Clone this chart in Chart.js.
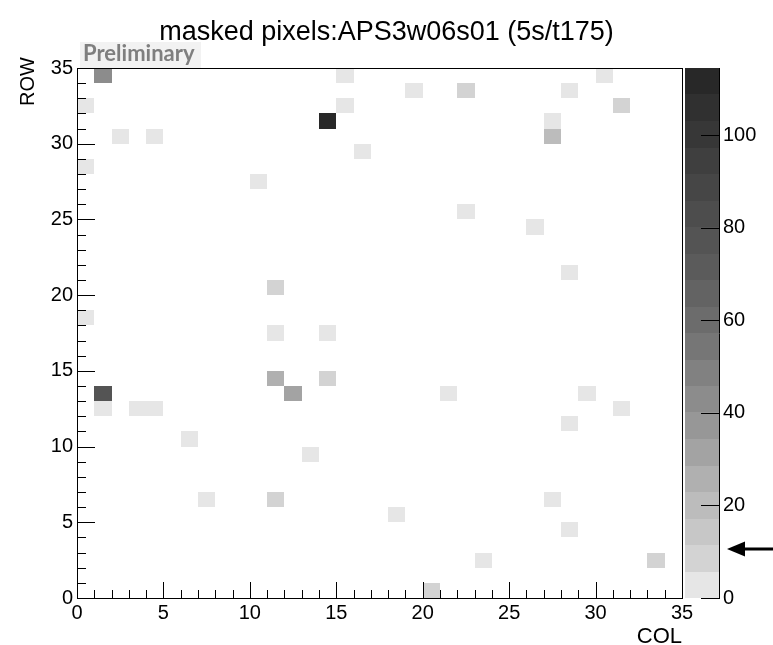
<!DOCTYPE html>
<html>
<head>
<meta charset="utf-8">
<title>masked pixels</title>
<script src="https://cdn.jsdelivr.net/npm/chart.js@4.4.1/dist/chart.umd.min.js"></script>
<style>
  body { margin: 0; background: #fff; }
  #wrap { width: 773px; height: 645px; }
</style>
</head>
<body>
<div id="wrap"><canvas id="heatmap" width="773" height="645"></canvas></div>
<script>
// masked pixel map, one entry per non-empty cell (column, row, count)
const cols   = [1, 15, 30, 19, 22, 28, 0, 15, 31, 14, 27, 2, 4, 27, 16, 0, 10, 22, 26, 28, 11, 0, 11, 14, 11, 14, 1, 12, 21, 29, 1, 3, 4, 31, 28, 6, 13, 7, 11, 27, 18, 28, 23, 33, 20];
const rows   = [34, 34, 34, 33, 33, 33, 32, 32, 32, 31, 31, 30, 30, 30, 29, 28, 27, 25, 24, 21, 20, 18, 17, 17, 14, 14, 13, 13, 13, 13, 12, 12, 12, 12, 11, 10, 9, 6, 6, 6, 5, 4, 2, 2, 0];
const counts = [43, 3, 3, 3, 9, 3, 3, 3, 9, 109, 3, 3, 3, 19, 3, 3, 3, 3, 3, 3, 9, 3, 3, 3, 25, 9, 77, 31, 3, 3, 3, 3, 3, 3, 3, 3, 3, 3, 9, 3, 3, 3, 3, 9, 9];

const colTicks = [0, 5, 10, 15, 20, 25, 30, 35];
const rowTicks = [0, 5, 10, 15, 20, 25, 30, 35];
const zTicks   = [0, 20, 40, 60, 80, 100];

const nCols = 35;
const nRows = 35;
const zMax = 114.5;
const arrowValue = 10.6;

// grey palette, lightest to darkest
const grayLevels = [230, 211, 199, 188, 176, 163, 151, 140, 129, 118, 108, 99, 91, 84, 77, 70, 63, 55, 48, 40];
const nLevels = grayLevels.length;

Chart.defaults.font.family = "'Liberation Sans', Arial, Helvetica, sans-serif";
Chart.defaults.color = '#000';

function grayFor(v) {
  const band = Math.min(nLevels - 1, Math.floor(v / zMax * nLevels));
  const g = grayLevels[band];
  return 'rgb(' + g + ',' + g + ',' + g + ')';
}

function setTicks(list) {
  return function (scale) {
    scale.ticks = list.map(v => ({ value: v }));
  };
}

function fixSize(prop, size) {
  return function (s) {
    s[prop] = size;
    s.paddingTop = 0;
    s.paddingBottom = 0;
  };
}

const cellPlugin = {
  id: 'cells',
  beforeDatasetsDraw(chart) {
    const { ctx, scales: { x, y } } = chart;
    const pts = chart.data.datasets[0].data;
    ctx.save();
    pts.forEach(p => {
      const x0 = Math.round(x.getPixelForValue(p.x - 0.5));
      const x1 = Math.round(x.getPixelForValue(p.x + 0.5));
      const y0 = Math.round(y.getPixelForValue(p.y + 0.5));
      const y1 = Math.round(y.getPixelForValue(p.y - 0.5));
      ctx.fillStyle = grayFor(p.v);
      ctx.fillRect(x0, y0, x1 - x0, y1 - y0);
    });
    ctx.restore();
  },
  afterDraw(chart) {
    const { ctx, chartArea: a, scales: { x, y, z } } = chart;
    ctx.save();
    ctx.strokeStyle = '#000';
    ctx.lineWidth = 1;

    // frame
    ctx.strokeRect(a.left + 0.5, a.top + 0.5, a.right - a.left, a.bottom - a.top);

    // inward ticks on x
    ctx.beginPath();
    for (let c = 0; c <= nCols; c++) {
      const px = Math.round(x.getPixelForValue(c)) + 0.5;
      const len = c % 5 === 0 ? 16 : 8;
      ctx.moveTo(px, a.bottom);
      ctx.lineTo(px, a.bottom - len);
    }
    // inward ticks on y
    for (let r = 0; r <= nRows; r++) {
      const py = Math.round(y.getPixelForValue(r)) + 0.5;
      const len = r % 5 === 0 ? 18 : 9;
      ctx.moveTo(a.left, py);
      ctx.lineTo(a.left + len, py);
    }
    ctx.stroke();

    // colour bar
    const barL = z.left + 3;
    const barR = z.left + 37;
    for (let i = 0; i < nLevels; i++) {
      const v0 = i * zMax / nLevels;
      const v1 = (i + 1) * zMax / nLevels;
      const yb = Math.round(z.getPixelForValue(v0));
      const yt = Math.round(z.getPixelForValue(v1));
      ctx.fillStyle = grayFor((v0 + v1) / 2);
      ctx.fillRect(barL, yt, barR - barL, yb - yt);
    }
    ctx.beginPath();
    ctx.moveTo(barR + 0.5, z.top);
    ctx.lineTo(barR + 0.5, z.bottom + 0.5);
    z.ticks.forEach(t => {
      const py = Math.round(z.getPixelForValue(t.value)) + 0.5;
      ctx.moveTo(barR - 18, py);
      ctx.lineTo(barR + 1, py);
    });
    ctx.stroke();

    // arrow marking the masking threshold
    const ay = Math.round(z.getPixelForValue(arrowValue));
    ctx.fillStyle = '#000';
    ctx.fillRect(barR + 25, ay - 1.5, chart.width - barR - 25, 3);
    ctx.beginPath();
    ctx.moveTo(barR + 8, ay);
    ctx.lineTo(barR + 26, ay - 7.5);
    ctx.lineTo(barR + 26, ay + 7.5);
    ctx.closePath();
    ctx.fill();

    // "Preliminary" stamp
    ctx.fillStyle = '#f2f2f2';
    ctx.fillRect(a.left + 3, 42, 121, a.top - 42);
    ctx.fillStyle = '#7f7f7f';
    ctx.font = "bold 22px Lato, 'Open Sans', sans-serif";
    ctx.textAlign = 'left';
    ctx.textBaseline = 'alphabetic';
    ctx.fillText('Preliminary', a.left + 6, 61);

    // y axis title
    ctx.fillStyle = '#000';
    ctx.font = "20px 'Liberation Sans', Arial, sans-serif";
    ctx.translate(28.5, a.top - 11);
    ctx.rotate(-Math.PI / 2);
    ctx.textAlign = 'right';
    ctx.textBaseline = 'middle';
    ctx.fillText('ROW', 0, 0);
    ctx.restore();
  }
};

const points = cols.map((c, i) => ({ x: c + 0.5, y: rows[i] + 0.5, v: counts[i] }));

new Chart(document.getElementById('heatmap'), {
  type: 'scatter',
  data: {
    datasets: [{
      label: 'masked pixels',
      data: points,
      pointRadius: 0,
      pointHoverRadius: 0,
      showLine: false
    }]
  },
  options: {
    responsive: false,
    animation: false,
    events: [],
    layout: { padding: 0 },
    plugins: {
      legend: { display: false },
      tooltip: { enabled: false },
      title: {
        display: true,
        text: 'masked pixels:APS3w06s01 (5s/t175)',
        color: '#000',
        font: { size: 27, weight: 'normal' },
        padding: { top: 16, bottom: 19.6 }
      }
    },
    scales: {
      x: {
        type: 'linear',
        min: 0,
        max: nCols,
        afterBuildTicks: setTicks(colTicks),
        afterFit: fixSize('height', 47),
        grid: { display: false, drawTicks: false },
        border: { display: false },
        ticks: { font: { size: 20 }, padding: 3, maxRotation: 0 },
        title: {
          display: true,
          text: 'COL',
          align: 'end',
          font: { size: 22, lineHeight: 0.76 },
          padding: 0
        }
      },
      y: {
        type: 'linear',
        min: 0,
        max: nRows,
        afterBuildTicks: setTicks(rowTicks),
        afterFit: fixSize('width', 77),
        grid: { display: false, drawTicks: false },
        border: { display: false },
        ticks: { font: { size: 20 }, padding: 4 }
      },
      z: {
        type: 'linear',
        axis: 'y',
        position: 'right',
        min: 0,
        max: zMax,
        afterBuildTicks: setTicks(zTicks),
        afterFit: fixSize('width', 91),
        grid: { display: false, drawTicks: false },
        border: { display: false },
        ticks: { font: { size: 20 }, padding: 41 }
      }
    }
  },
  plugins: [cellPlugin]
});
</script>
</body>
</html>
